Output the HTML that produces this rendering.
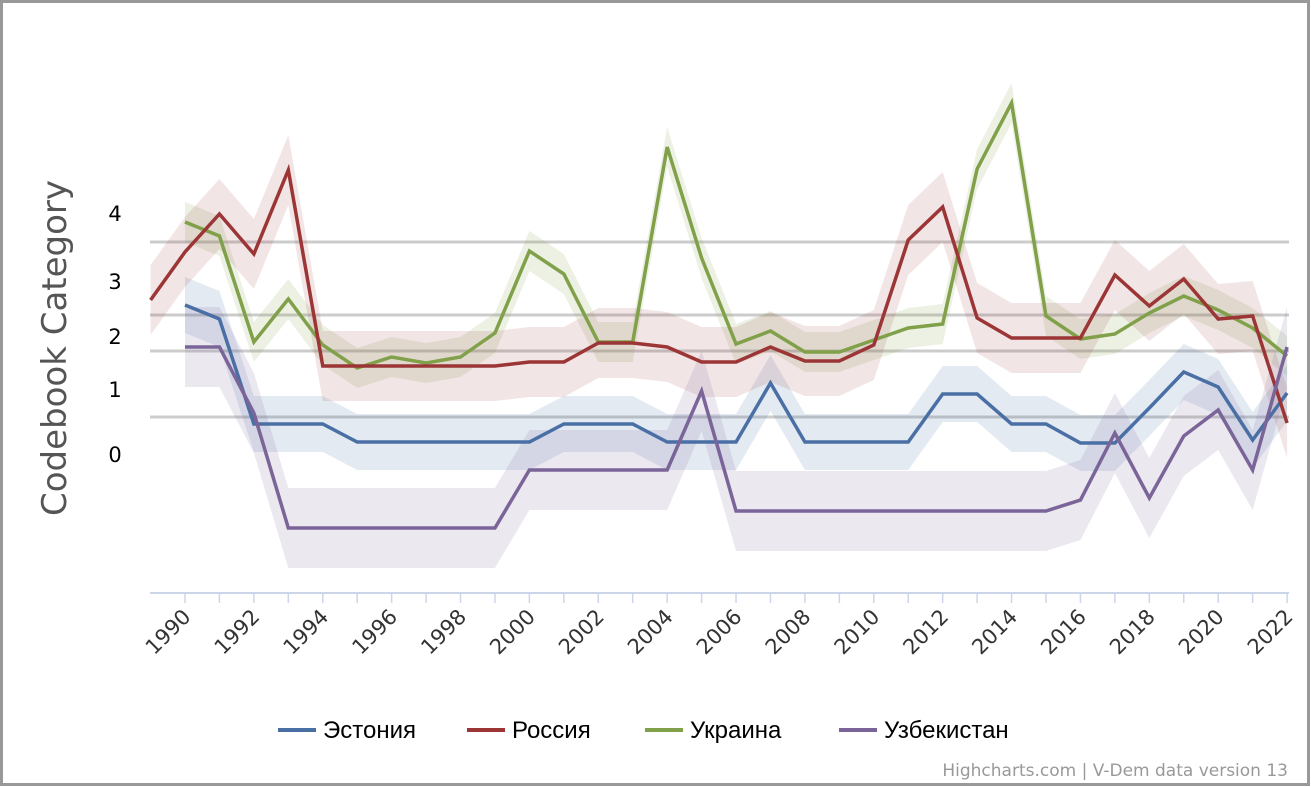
<!DOCTYPE html>
<html><head><meta charset="utf-8"><style>
html,body{margin:0;padding:0;background:#fff;}
body{width:1311px;height:787px;overflow:hidden;}
svg{display:block;font-family:"DejaVu Sans","Liberation Sans",sans-serif;}
</style></head><body>
<svg id="s" width="1311" height="787" xmlns="http://www.w3.org/2000/svg">
<rect x="1.5" y="1.5" width="1307" height="783" fill="#fff" stroke="#999" stroke-width="3"/>
<g stroke="#ccc" stroke-width="3">
<line x1="150" x2="1289" y1="242" y2="242"/>
<line x1="150" x2="1289" y1="315" y2="315"/>
<line x1="150" x2="1289" y1="351" y2="351"/>
<line x1="150" x2="1289" y1="417" y2="417"/>
</g>
<g font-size="21" fill="#000" text-anchor="middle">
<text x="115" y="221">4</text><text x="115" y="289">3</text><text x="115" y="344">2</text><text x="115" y="397">1</text><text x="115" y="462">0</text>
</g>
<text transform="translate(66,348) rotate(-90)" text-anchor="middle" font-size="34" fill="#555">Codebook Category</text>
<g id="series"></g>
<line x1="150" x2="1289" y1="593" y2="593" stroke="#ccd6eb" stroke-width="2"/>
<g id="ticks"></g>
<g font-size="24" fill="#000" font-family="Liberation Sans, sans-serif">
<line x1="278" x2="316" y1="730" y2="730" stroke="#4a6fa5" stroke-width="4"/><text x="323" y="738">Эстония</text>
<line x1="467" x2="505" y1="730" y2="730" stroke="#9b3536" stroke-width="4"/><text x="512" y="738">Россия</text>
<line x1="645" x2="683" y1="730" y2="730" stroke="#80a04a" stroke-width="4"/><text x="690" y="738">Украина</text>
<line x1="839" x2="877" y1="730" y2="730" stroke="#7a6498" stroke-width="4"/><text x="884" y="738">Узбекистан</text>
</g>
<text x="1288" y="776" text-anchor="end" font-size="17" fill="#999">Highcharts.com | V-Dem data version 13</text>
</svg>
<script>
const X=y=>185+(y-1990)*34.44;
const S=[
{c:"#80a04a",f:"rgba(128,160,74,0.15)",d:[,222,236,342,299,345,368,357,363,357,333,251,274,342,342,147,258,344,331,352,352,340,328,324,169,103,316,339,334,313,296,310,328,356],b:20,start:1990},
{c:"#4a6fa5",f:"rgba(74,111,165,0.15)",d:[,305,319,424,424,424,442,442,442,442,442,442,424,424,424,442,442,442,383,442,442,442,442,394,394,424,424,443,443,408,372,387,440,393],b:28,start:1990},
{c:"#9b3536",f:"rgba(155,53,54,0.13)",d:[300,252,214,254,170,366,366,366,366,366,366,362,362,343,343,347,362,362,347,361,361,345,240,207,318,338,338,338,275,306,279,319,316,423],b:35,start:1989},
{c:"#7a6498",f:"rgba(122,100,152,0.15)",d:[,347,347,413,528,528,528,528,528,528,528,470,470,470,470,470,391,511,511,511,511,511,511,511,511,511,511,500,433,498,436,410,470,347],b:40,start:1990}
];
let g="";
for(const s of S){
 let up=[],lo=[],ln=[];
 s.d.forEach((v,i)=>{if(v===undefined)return;const x=X(1989+i);ln.push(x+","+v);up.push(x+","+(v-s.b));lo.unshift(x+","+(v+s.b));});
 g+=`<polygon points="${up.concat(lo).join(" ")}" fill="${s.f}"/>`;
 s.ln=ln;
}
for(const s of S)g+=`<polyline points="${s.ln.join(" ")}" fill="none" stroke="${s.c}" stroke-width="3.5" stroke-linejoin="miter"/>`;
document.getElementById("series").innerHTML=g;
let t="";
for(let y=1990;y<=2022;y++){const x=X(y);t+=`<line x1="${x}" x2="${x}" y1="593" y2="603" stroke="#ccd6eb" stroke-width="1.5"/>`;
if(y%2==0)t+=`<text transform="translate(${x+7},${618}) rotate(-45)" text-anchor="end" font-size="21" fill="#333">${y}</text>`;}
document.getElementById("ticks").innerHTML=t;
</script>
</body></html>
